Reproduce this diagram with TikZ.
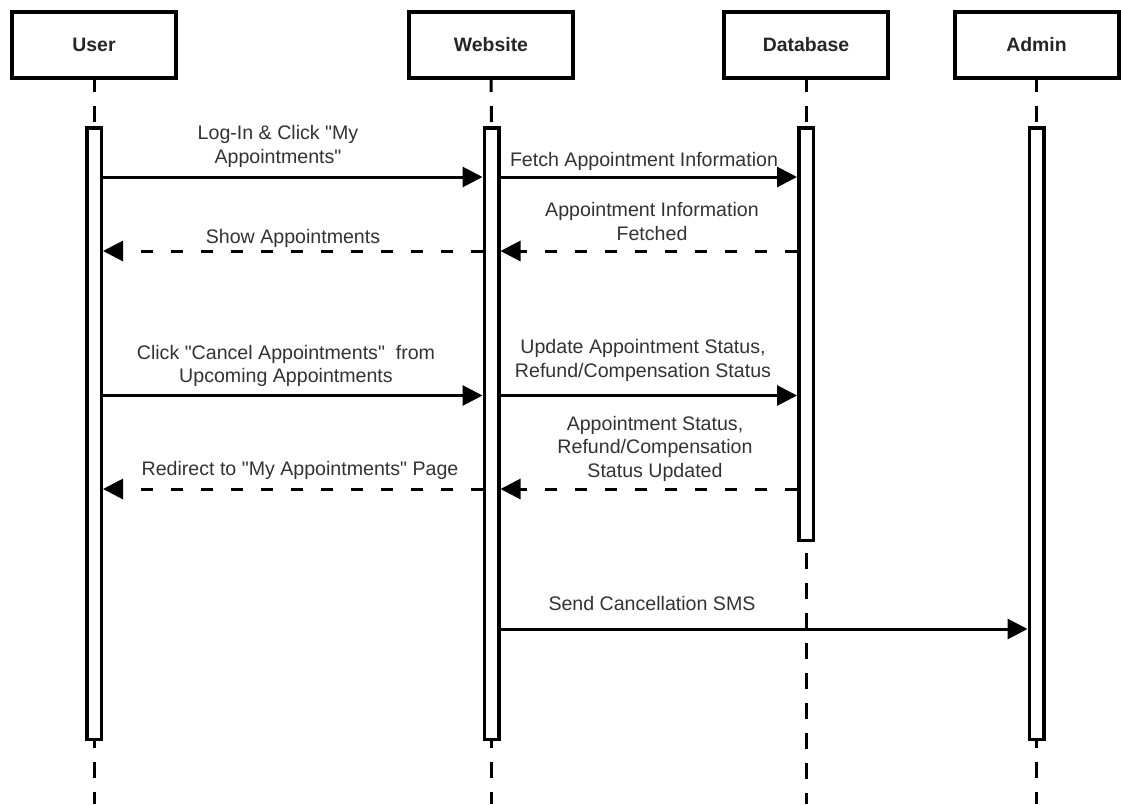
\documentclass[tikz,border=0pt]{standalone}
\usepackage{fontspec}
\setmainfont{Liberation Sans}[Ligatures=TeXOff]
\usetikzlibrary{arrows.meta}
\begin{document}
\begin{tikzpicture}[x=1pt,y=-1pt,
  head/.style={draw=black, line width=4pt, fill=white, minimum width=164pt,
    minimum height=66pt, inner sep=0pt,
    font=\fontsize{19.4}{23}\selectfont\bfseries, text=black!85},
  actbar/.style={draw=black, line width=3.5pt, fill=white, minimum width=14.5pt, inner sep=0pt},
  life/.style={line width=3pt, dash pattern=on 16pt off 14pt},
  msg/.style={line width=3pt, -{Triangle[length=20pt,width=20pt]}},
  reply/.style={msg, dash pattern=on 12pt off 18pt},
  % multi-line labels sit on the baseline of their last line
  lbl/.style={align=center, inner sep=0pt, font=\fontsize{19.6}{23.5}\selectfont,
    text=black!80, anchor=base}
]
\useasboundingbox (0,0) rectangle (1121,804);
\fill[white] (0,0) rectangle (1121,804);

% participants
\node[head] (user)  at (94,45)     {User};
\node[head] (web)   at (491,45)    {Website};
\node[head] (db)    at (806,45)    {Database};
\node[head] (admin) at (1036.5,45) {Admin};

% activation bars
\node[actbar, minimum height=611.5pt] (ubar) at (94,433.5) {};
\node[actbar, minimum height=611.5pt] (wbar) at (491.5,433.5) {};
\node[actbar, minimum height=412.5pt] (dbar) at (806,334) {};
\node[actbar, minimum height=611.5pt] (abar) at (1036.5,433.5) {};

% lifeline ends at the bottom edge
\coordinate (uend) at (94,804);
\coordinate (wend) at (491.5,804);
\coordinate (dend) at (806,804);
\coordinate (aend) at (1036.5,804);

% lifelines
\draw[life, dash phase=4pt] (user.south) -- (ubar.north);
\draw[life, dash phase=4pt] (web.south) -- (wbar.north);
\draw[life, dash phase=4pt] (db.south) -- (dbar.north);
\draw[life, dash phase=4pt] (admin.south) -- (abar.north);
\draw[life, dash phase=9pt] (ubar.south) -- (uend);
\draw[life, dash phase=9pt] (wbar.south) -- (wend);
\draw[life, dash phase=19pt] (dbar.south) -- (dend);
\draw[life, dash phase=9pt] (abar.south) -- (aend);

% message rows
\coordinate (r1) at (0,177);
\coordinate (r2) at (0,251);
\coordinate (r3) at (0,395.5);
\coordinate (r4) at (0,489);
\coordinate (r5) at (0,629);

% messages
\draw[msg]   (ubar.east |- r1) -- (wbar.west |- r1);
\draw[msg]   (wbar.east |- r1) -- (dbar.west |- r1);
\draw[reply] (dbar.west |- r2) -- (wbar.east |- r2);
\draw[reply] (wbar.west |- r2) -- (ubar.east |- r2);
\draw[msg]   (ubar.east |- r3) -- (wbar.west |- r3);
\draw[msg]   (wbar.east |- r3) -- (dbar.west |- r3);
\draw[reply] (dbar.west |- r4) -- (wbar.east |- r4);
\draw[reply] (wbar.west |- r4) -- (ubar.east |- r4);
\draw[msg]   (wbar.east |- r5) -- (abar.west |- r5);

% message labels
\node[lbl] (t1) at (278,163) {Log-In \& Click "My\\Appointments"};
\node[lbl] (t2) at (644,166) {Fetch Appointment Information};
\node[lbl] (t3) at (652,240) {Appointment Information\\Fetched};
\node[lbl] (t4) at (293,243) {Show Appointments};
\node[lbl] (t5) at (286,382.5) {Click "Cancel Appointments"\ \ from\\Upcoming Appointments};
\node[lbl] (t6) at (643,377) {Update Appointment Status,\\Refund/Compensation Status};
\node[lbl] (t7) at (655,477) {Appointment Status,\\Refund/Compensation\\Status Updated};
\node[lbl] (t8) at (300,475) {Redirect to "My Appointments" Page};
\node[lbl] (t9) at (652,610) {Send Cancellation SMS};
\end{tikzpicture}
\end{document}
